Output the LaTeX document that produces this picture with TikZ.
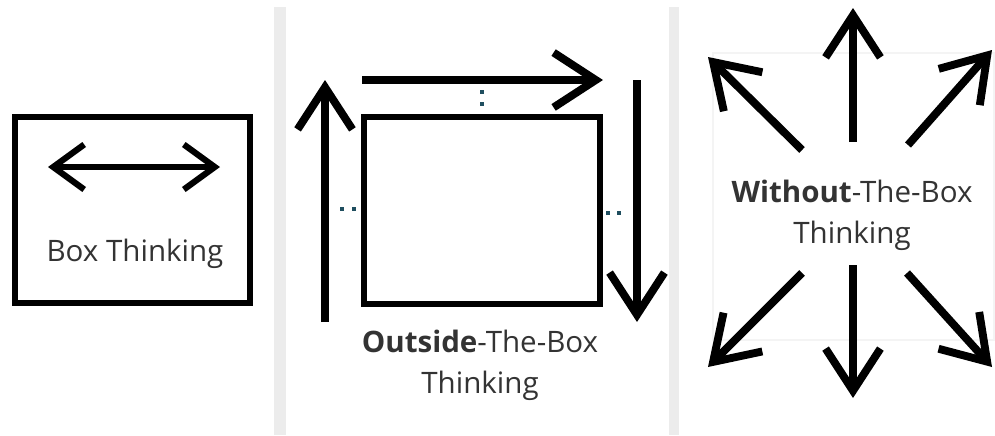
\documentclass[tikz,border=0pt]{standalone}
\usepackage{fontspec}
\setmainfont{Open Sans}
\definecolor{sepGray}{HTML}{ECECEC}
\definecolor{faintGray}{HTML}{F4F4F4}
\definecolor{lblText}{HTML}{333333}
\definecolor{dotTeal}{HTML}{1F4E5F}
\usetikzlibrary{arrows.meta}

\begin{document}
\begin{tikzpicture}[x=0.025cm, y=-0.025cm,
  frame/.style={draw=black, line width=4.4pt},
  sep/.style={fill=sepGray, draw=none},
  arr/.style={line width=5.6pt, -{Straight Barb[length=30pt,width=39pt]}},
  dbl/.style={line width=4.4pt,
              {Straight Barb[length=22pt,width=32pt]}-{Straight Barb[length=22pt,width=32pt]}},
  lbl/.style={text=lblText, font=\fontsize{21}{29}\selectfont, align=center,
              inner sep=0pt},
  dot/.style={fill=dotTeal, minimum size=2.3pt, inner sep=0pt}]
  \useasboundingbox (0,0) rectangle (995,435);

  % separators
  \fill[sep] (274,7) rectangle (286,435);
  \fill[sep] (669,7) rectangle (679,435);

  % box thinking
  \draw[frame] (15,117) rectangle (250,303);
  \coordinate (bl) at (48,167);
  \coordinate (br) at (220,167);
  \draw[dbl] (bl) -- (br);
  \node[lbl] (boxlbl) at (135,254) {Box Thinking};

  % outside the box
  \draw[frame] (364,117) rectangle (600,304);
  \coordinate (u0) at (325,322);
  \coordinate (u1) at (325,80);
  \coordinate (t0) at (362,80);
  \coordinate (t1) at (603,80);
  \coordinate (d0) at (637,80);
  \coordinate (d1) at (637,322);
  \draw[arr] (u0) -- (u1);
  \draw[arr] (t0) -- (t1);
  \draw[arr] (d0) -- (d1);
  \node[dot] (dt1) at (482,92) {};
  \node[dot] (dt2) at (482,104) {};
  \node[dot] (dl1) at (342,209) {};
  \node[dot] (dl2) at (354,209) {};
  \node[dot] (dr1) at (608,213) {};
  \node[dot] (dr2) at (619,213) {};
  \node[lbl] (outlbl) at (480,365)
     {\textbf{Outside}-The-Box\\Thinking};

  % without the box
  \draw[faintGray, line width=2pt] (713,53) rectangle (994,340);
  \draw[arr] (853,142) -- (853,8);
  \draw[arr] (853,265) -- (853,398);
  \draw[arr] (802,150) -- (708,57);
  \draw[arr] (908,145) -- (992,50);
  \draw[arr] (802,273) -- (708,367);
  \draw[arr] (907,273) -- (992,367);
  \node[lbl] (wolbl) at (852,215)
     {\textbf{Without}-The-Box\\Thinking};
\end{tikzpicture}
\end{document}
